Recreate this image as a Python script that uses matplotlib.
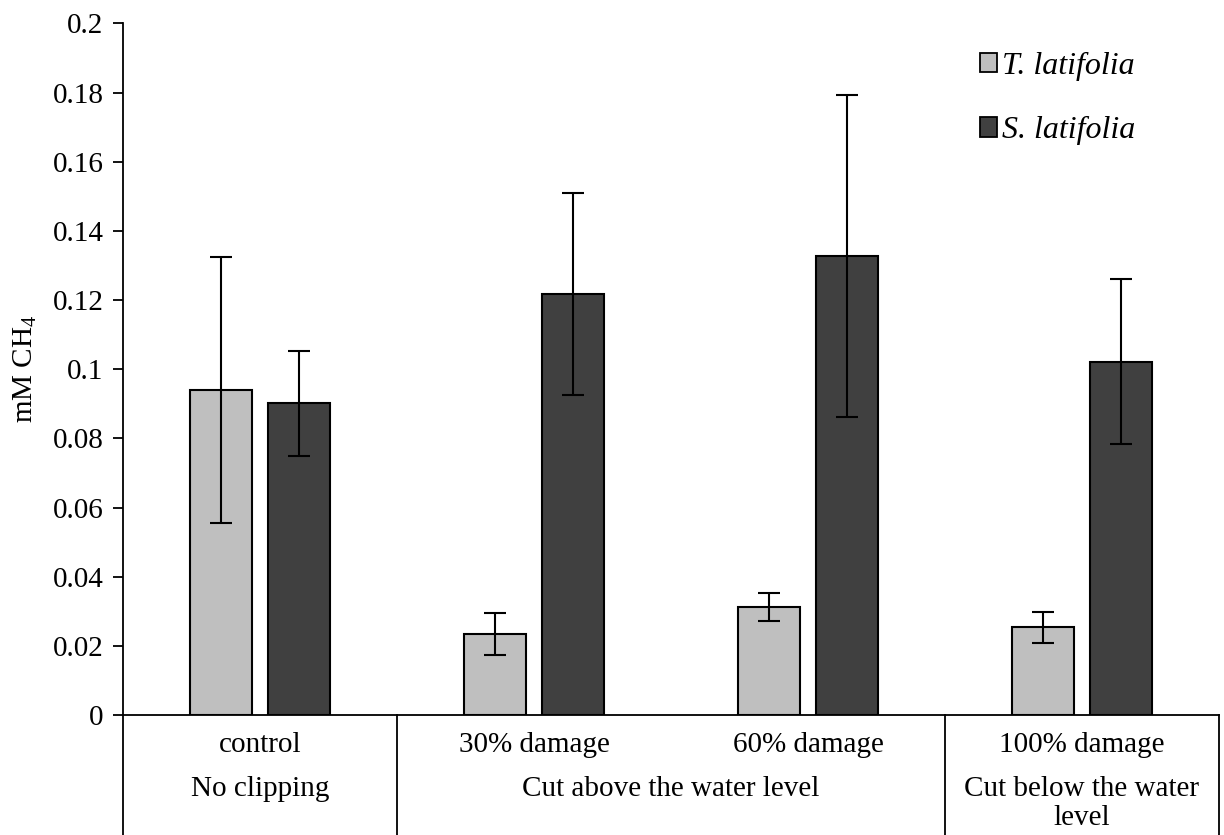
import matplotlib
matplotlib.use("Agg")
import matplotlib.pyplot as plt
from matplotlib.patches import Patch
import numpy as np

plt.rcParams['font.family'] = ['Liberation Serif', 'DejaVu Serif']
plt.rcParams['mathtext.fontset'] = 'custom'
plt.rcParams['mathtext.rm'] = 'Liberation Serif'

# data
treatments = ['control', '30% damage', '60% damage', '100% damage']
t_lat = [0.0940, 0.0234, 0.0313, 0.0254]
t_lat_err = [0.0385, 0.0061, 0.0041, 0.0045]
s_lat = [0.0901, 0.1218, 0.1328, 0.1022]
s_lat_err = [0.0152, 0.0292, 0.0466, 0.0238]
groups = ['No clipping', 'Cut above the water level', 'Cut below the water\nlevel']
group_spans = [(0, 0), (1, 2), (3, 3)]

fs = 21
x = np.arange(len(treatments))
w = 0.226
off = 0.142

fig = plt.figure(figsize=(12.24, 8.35), dpi=100)
ax = fig.add_axes([0.1005, 0.1437, 0.8954, 0.8283])

err_kw = dict(elinewidth=1.5, capthick=1.5, ecolor='black', capsize=8)
ax.bar(x - off, t_lat, w, yerr=t_lat_err, color='#bfbfbf', edgecolor='black',
       linewidth=1.5, error_kw=err_kw, label='T. latifolia')
ax.bar(x + off, s_lat, w, yerr=s_lat_err, color='#404040', edgecolor='black',
       linewidth=1.5, error_kw=err_kw, label='S. latifolia')

ax.set_xlim(-0.5, len(treatments) - 0.5)
ax.set_ylim(0, 0.2)
ax.set_yticks(np.arange(0, 0.201, 0.02))
ax.set_yticklabels(['0'] + ['%g' % v for v in np.arange(0.02, 0.201, 0.02)])
ax.tick_params(axis='y', direction='out', length=7, width=1.3, labelsize=fs, pad=7)
ax.set_xticks([])
for s in ['top', 'right']:
    ax.spines[s].set_visible(False)
for s in ['left', 'bottom']:
    ax.spines[s].set_linewidth(1.3)

ax.set_ylabel('mM CH$_\\mathregular{4}$', fontsize=fs, labelpad=10)

# category and group labels under the axis
trans = ax.get_xaxis_transform()
for xi, name in zip(x, treatments):
    ax.text(xi, -0.043, name, transform=trans, ha='center', va='center', fontsize=fs)
for (a, b), g in zip(group_spans, groups):
    ax.text((a + b) / 2, -0.088, g, transform=trans, ha='center', va='top',
            fontsize=fs, linespacing=1.15)

bounds = [-0.5, 0.5, 2.5, 3.5]
for bx in bounds:
    ax.plot([bx, bx], [0, -0.25], transform=trans, color='black', lw=1.3,
            clip_on=False)

handles = [Patch(facecolor='#bfbfbf', edgecolor='black', lw=1.3),
           Patch(facecolor='#404040', edgecolor='black', lw=1.3)]
ax.legend(handles, ['T. latifolia', 'S. latifolia'], loc='upper left',
          bbox_to_anchor=(0.777, 0.972), bbox_transform=fig.transFigure,
          frameon=False, prop={'style': 'italic', 'size': 23},
          handlelength=0.55, handleheight=0.55, handletextpad=0.15,
          labelspacing=1.1)

fig.savefig('out.png', dpi=100)
